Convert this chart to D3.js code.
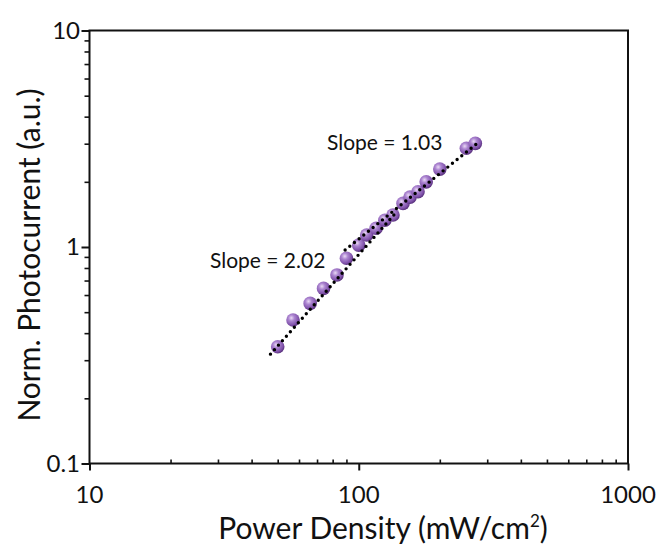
<!DOCTYPE html>
<html>
<head>
<meta charset="utf-8">
<script src="https://cdn.jsdelivr.net/npm/d3@7"></script>
<style>
  body { margin: 0; background: white; }
  text { font-family: Lato, "Open Sans", sans-serif; fill: #111; }
</style>
</head>
<body>
<div id="chart"></div>
<script>
// datos
var power = [50, 57, 66, 74, 83, 90, 100, 107, 116, 125, 134, 146, 155, 166, 178, 200, 251, 271];
var photocurrent = [0.346, 0.46, 0.549, 0.644, 0.743, 0.887, 1.02, 1.136, 1.22, 1.33, 1.405, 1.59, 1.70, 1.80, 2.00, 2.29, 2.86, 3.01];

// rectas de ajuste (extremos)
var fitLowX = [47, 138];
var fitLowY = [0.32, 1.45];
var fitHighX = [89, 276];
var fitHighY = [0.968, 3.02];

var xTicks = [10, 100, 1000];
var yTicks = [0.1, 1, 10];
var xTickLabels = ["10", "100", "1000"];
var yTickLabels = ["0.1", "1", "10"];

var width = 663, height = 547;
var mLeft = 89.5, mRight = 628, mTop = 30.5, mBottom = 463.5;

var svg = d3.select("#chart").append("svg")
  .attr("width", width)
  .attr("height", height);

var x = d3.scaleLog().domain([10, 1000]).range([mLeft, mRight]);
var y = d3.scaleLog().domain([0.1, 10]).range([mBottom, mTop]);

var defs = svg.append("defs");
var grad = defs.append("radialGradient")
  .attr("id", "bola")
  .attr("cx", "38%").attr("cy", "35%").attr("r", "65%");
grad.append("stop").attr("offset", "0%").attr("stop-color", "#ead9f5");
grad.append("stop").attr("offset", "35%").attr("stop-color", "#ab84d0");
grad.append("stop").attr("offset", "80%").attr("stop-color", "#8052aa");
grad.append("stop").attr("offset", "100%").attr("stop-color", "#5c3480");

// minor ticks
var minorX = [];
[10, 100].forEach(function(d){ for (var k = 2; k <= 9; k++) minorX.push(d * k); });
var minorY = [];
[0.1, 1].forEach(function(d){ for (var k = 2; k <= 9; k++) minorY.push(d * k); });

// eje inferior: ticks hacia dentro
svg.append("g")
  .attr("transform", "translate(0," + mBottom + ")")
  .call(d3.axisBottom(x).tickValues(minorX).tickSize(-4).tickFormat(""))
  .call(function(g){ g.select(".domain").remove(); })
  .selectAll("line").attr("stroke", "#111").attr("stroke-width", 1.6);

svg.append("g")
  .attr("transform", "translate(0," + mBottom + ")")
  .call(d3.axisBottom(x).tickValues(xTicks).tickSize(7).tickFormat(""))
  .call(function(g){ g.select(".domain").remove(); })
  .selectAll("line").attr("stroke", "#111").attr("stroke-width", 2);

// eje izquierdo: ticks hacia fuera
svg.append("g")
  .attr("transform", "translate(" + mLeft + ",0)")
  .call(d3.axisLeft(y).tickValues(minorY).tickSize(5).tickFormat(""))
  .call(function(g){ g.select(".domain").remove(); })
  .selectAll("line").attr("stroke", "#111").attr("stroke-width", 1.6);

svg.append("g")
  .attr("transform", "translate(" + mLeft + ",0)")
  .call(d3.axisLeft(y).tickValues(yTicks).tickSize(8).tickFormat(""))
  .call(function(g){ g.select(".domain").remove(); })
  .selectAll("line").attr("stroke", "#111").attr("stroke-width", 2);

// marco
svg.append("rect")
  .attr("x", mLeft).attr("y", mTop)
  .attr("width", mRight - mLeft).attr("height", mBottom - mTop)
  .attr("fill", "none").attr("stroke", "#111").attr("stroke-width", 2);

// etiquetas de los ejes
svg.selectAll(".xlab").data(xTicks).enter().append("text")
  .attr("x", function(d){ return x(d); })
  .attr("y", 503)
  .attr("text-anchor", "middle")
  .style("font-size", "24px")
  .text(function(d, i){ return xTickLabels[i]; });

svg.selectAll(".ylab").data(yTicks).enter().append("text")
  .attr("x", 80)
  .attr("y", function(d){ return y(d) + 8; })
  .attr("text-anchor", "end")
  .style("font-size", "24px")
  .text(function(d, i){ return yTickLabels[i]; });

var xt = svg.append("text")
  .attr("x", 383)
  .attr("y", 539)
  .attr("text-anchor", "middle")
  .style("font-size", "30px");
xt.append("tspan").text("Power Density (mW/cm");
xt.append("tspan").attr("dy", -12).style("font-size", "17px").text("2");
xt.append("tspan").attr("dy", 12).text(")");

svg.append("text")
  .attr("transform", "translate(40,255) rotate(-90)")
  .attr("text-anchor", "middle")
  .style("font-size", "30px")
  .text("Norm. Photocurrent (a.u.)");

// datos
svg.append("g").selectAll("circle")
  .data(power)
  .enter()
  .append("circle")
  .attr("cx", function(d){ return x(d); })
  .attr("cy", function(d, i){ return y(photocurrent[i]); })
  .attr("r", 6.8)
  .style("fill", "url(#bola)");

// rectas punteadas
var line = d3.line()
  .x(function(d){ return x(d[0]); })
  .y(function(d){ return y(d[1]); });

[[fitLowX, fitLowY], [fitHighX, fitHighY]].forEach(function(f){
  svg.append("path")
    .datum(d3.zip(f[0], f[1]))
    .attr("d", line)
    .attr("fill", "none")
    .attr("stroke", "#000")
    .attr("stroke-width", 3.4)
    .attr("stroke-linecap", "round")
    .attr("stroke-dasharray", "0,6");
});

svg.append("text")
  .attr("x", 327).attr("y", 150)
  .style("font-size", "21px")
  .text("Slope = 1.03");

svg.append("text")
  .attr("x", 210).attr("y", 268)
  .style("font-size", "21px")
  .text("Slope = 2.02");
</script>
</body>
</html>
